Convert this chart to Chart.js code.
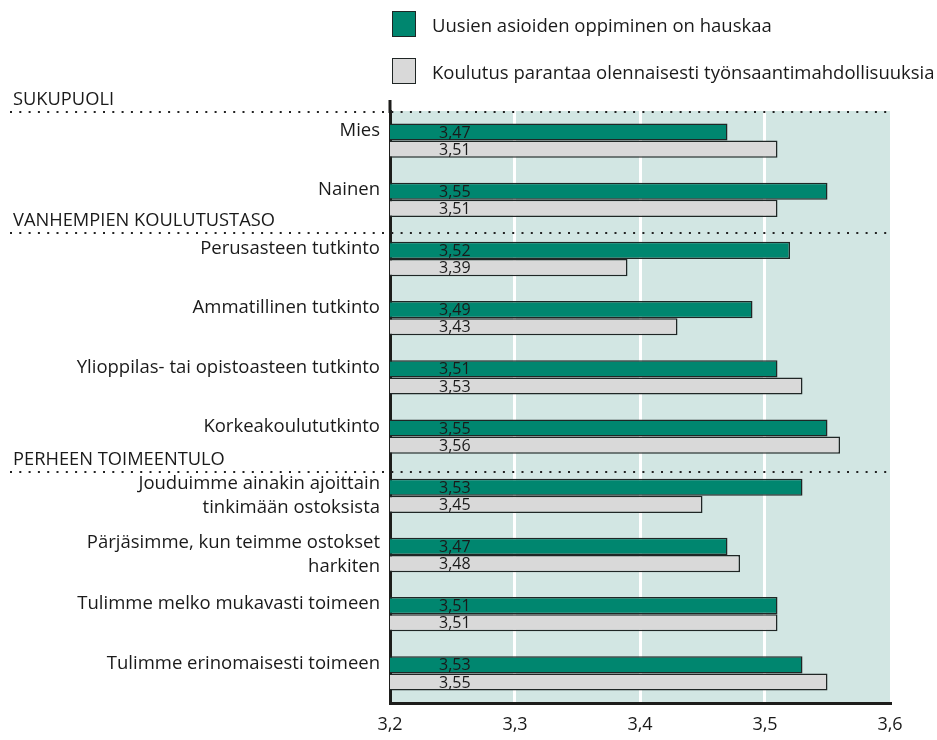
<!DOCTYPE html>
<html>
<head>
<meta charset="utf-8">
<script src="https://cdn.jsdelivr.net/npm/chart.js@4/dist/chart.umd.min.js"></script>
<style>
  body { margin: 0; background: #fff; }
  #wrap { position: relative; width: 937px; height: 740px; }
  #legend { position: absolute; left: 392px; top: 11px; font-family: "Open Sans", sans-serif; font-size: 18.5px; color: #1a1a1a; }
  .item { display: flex; align-items: center; height: 26px; margin-bottom: 21px; white-space: nowrap; }
  .box { width: 22px; height: 24px; border: 1.5px solid #1f2625; margin-right: 16px; flex: none; }
</style>
</head>
<body>
<div id="wrap">
  <canvas id="barChart" width="937" height="740"></canvas>
  <div id="legend"></div>
</div>
<script>
    var categories = [
        ['Mies', ''],
        ['Nainen', ''],
        ['Perusasteen tutkinto', ''],
        ['Ammatillinen tutkinto', ''],
        ['Ylioppilas- tai opistoasteen tutkinto', ''],
        ['Korkeakoulututkinto', ''],
        ['Jouduimme ainakin ajoittain', 'tinkimään ostoksista'],
        ['Pärjäsimme, kun teimme ostokset', 'harkiten'],
        ['Tulimme melko mukavasti toimeen', ''],
        ['Tulimme erinomaisesti toimeen', '']
    ];
    var funValues = [3.47, 3.55, 3.52, 3.49, 3.51, 3.55, 3.53, 3.47, 3.51, 3.53];
    var jobValues = [3.51, 3.51, 3.39, 3.43, 3.53, 3.56, 3.45, 3.48, 3.51, 3.55];
    var seriesNames = ['Uusien asioiden oppiminen on hauskaa', 'Koulutus parantaa olennaisesti työnsaantimahdollisuuksia'];
    var sectionTitles = ['SUKUPUOLI', 'VANHEMPIEN KOULUTUSTASO', 'PERHEEN TOIMEENTULO'];
    var sectionStarts = [0, 2, 6];

    var colors = ['#00866f', '#d9d9d9'];
    var comma = function (v, d) { return Number(v).toFixed(d).replace('.', ','); };

    // legend as html, stacked like the original
    var legend = document.getElementById('legend');
    seriesNames.forEach(function (name, i) {
        legend.innerHTML += '<div class="item"><span class="box" style="background:' + colors[i] + '"></span>' + name + '</div>';
    });

    var decorations = {
        id: 'decorations',
        beforeDraw: function (chart) {
            var c = chart.ctx, a = chart.chartArea;
            c.save();
            c.fillStyle = '#d2e6e3';
            c.fillRect(a.left, a.top, a.right - a.left, a.bottom - a.top);
            c.restore();
        },
        afterDatasetsDraw: function (chart) {
            var c = chart.ctx;
            c.save();
            c.font = '16px "Open Sans"';
            c.fillStyle = '#1a1a1a';
            c.textBaseline = 'middle';
            chart.data.datasets.forEach(function (ds, i) {
                chart.getDatasetMeta(i).data.forEach(function (bar, j) {
                    c.fillText(comma(ds.data[j], 2), chart.chartArea.left + 49, bar.y + 1);
                });
            });
            c.restore();
        },
        afterDraw: function (chart) {
            var c = chart.ctx, a = chart.chartArea, y = chart.scales.y;
            c.save();
            // left axis goes a bit above the first category
            c.strokeStyle = '#1d1d1b';
            c.lineWidth = 3;
            c.beginPath();
            c.moveTo(a.left, 100);
            c.lineTo(a.left, a.top + 2);
            c.stroke();
            // section headers with dotted lines
            c.font = '18.3px "Open Sans"';
            c.fillStyle = '#1a1a1a';
            c.textBaseline = 'middle';
            sectionTitles.forEach(function (t, i) {
                var ly = Math.round(y.getPixelForValue(sectionStarts[i]) - 29 + 2.5 * i);
                c.fillText(t, 13, ly - 12);
                c.strokeStyle = '#222';
                c.lineWidth = 2;
                c.setLineDash([2, 7.3]);
                c.beginPath();
                c.moveTo(10, ly);
                c.lineTo(a.right, ly);
                c.stroke();
            });
            c.restore();
        }
    };

    var ctx = document.getElementById('barChart').getContext('2d');
    var barChart = new Chart(ctx, {
        type: 'bar',
        data: {
            labels: categories,
            datasets: [{
                label: seriesNames[0],
                data: funValues,
                backgroundColor: colors[0],
                borderColor: '#1f2625',
                borderWidth: 1.5
            }, {
                label: seriesNames[1],
                data: jobValues,
                backgroundColor: colors[1],
                borderColor: '#1f2625',
                borderWidth: 1.5
            }]
        },
        options: {
            indexAxis: 'y',
            responsive: false,
            animation: false,
            barPercentage: 1,
            categoryPercentage: 0.58,
            layout: { padding: { top: 111, right: 47, bottom: 0, left: 0 } },
            plugins: {
                legend: { display: false },
                tooltip: { enabled: false }
            },
            scales: {
                x: {
                    min: 3.2,
                    max: 3.6,
                    afterFit: function (scale) { scale.height = 37; },
                    ticks: {
                        stepSize: 0.1,
                        padding: 11,
                        color: '#1a1a1a',
                        font: { family: 'Open Sans', size: 18 },
                        callback: function (v) { return comma(v, 1); }
                    },
                    grid: {
                        drawTicks: false,
                        lineWidth: 3,
                        color: function (c) {
                            return c.tick && c.tick.value > 3.25 && c.tick.value < 3.55 ? '#ffffff' : 'rgba(0,0,0,0)';
                        }
                    },
                    border: { color: '#1d1d1b', width: 3 }
                },
                y: {
                    afterFit: function (scale) { scale.width = 390; },
                    ticks: {
                        padding: 10,
                        color: '#1a1a1a',
                        font: function (c) {
                            var twoLines = c.index === 6 || c.index === 7;
                            return { family: 'Open Sans', size: 18.5, lineHeight: twoLines ? '24px' : '20px' };
                        }
                    },
                    grid: { display: false, drawTicks: false },
                    border: { color: '#1d1d1b', width: 3 }
                }
            }
        },
        plugins: [decorations]
    });
</script>
</body>
</html>
